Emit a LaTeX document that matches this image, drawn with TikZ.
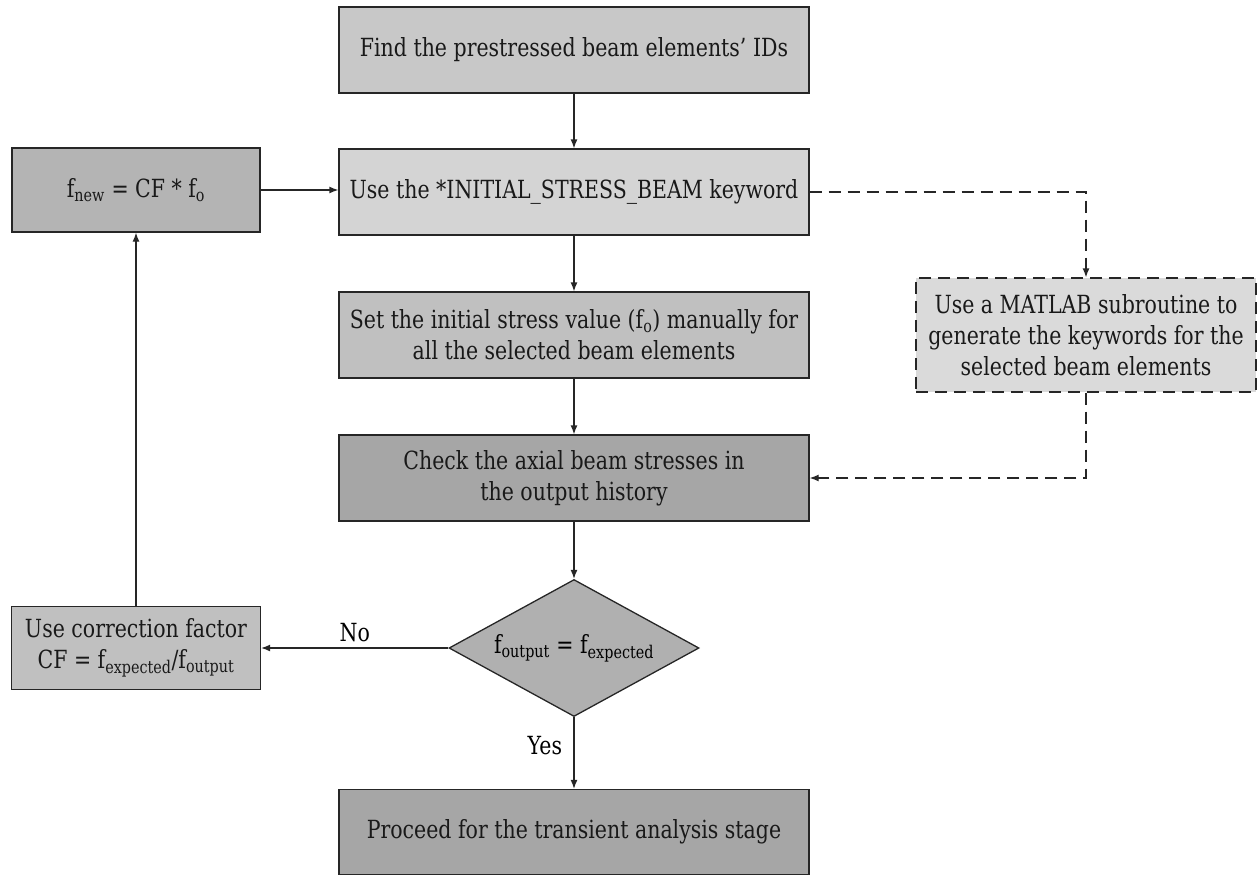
\documentclass[tikz,border=0pt]{standalone}
\usepackage{fontspec}
\setmainfont{DejaVu Serif}[FakeStretch=0.82]
\usetikzlibrary{shapes.geometric,arrows.meta}
\definecolor{cTop}{HTML}{C8C8C8}
\definecolor{cUse}{HTML}{D4D4D4}
\definecolor{cNew}{HTML}{B4B4B4}
\definecolor{cSet}{HTML}{C0C0C0}
\definecolor{cChk}{HTML}{A6A6A6}
\definecolor{cDia}{HTML}{B0B0B0}
\definecolor{cCor}{HTML}{C0C0C0}
\definecolor{cMat}{HTML}{DADADA}
\definecolor{cLine}{HTML}{262626}
\begin{document}
\begin{tikzpicture}[x=1pt,y=-1pt,
  font=\fontsize{25}{31}\selectfont,
  box/.style={draw=cLine,line width=1.3pt,rectangle,align=center,inner sep=2pt,text=black!90},
  wide/.style={box,minimum width=470pt,minimum height=86pt},
  arr/.style={draw=cLine,line width=1.3pt,-{Latex[length=9pt,width=7pt]}},
  dsh/.style={dash pattern=on 12pt off 7pt}]
\useasboundingbox (0,0) rectangle (1257,876);

\node[wide,fill=cTop] (find) at (574,50) {Find the prestressed beam elements' IDs};
\node[wide,fill=cUse] (use) at (574,192) {Use the *INITIAL\_STRESS\_BEAM keyword};
\node[box,fill=cNew,minimum width=248pt,minimum height=84pt] (fnew) at (136,190) {f\textsubscript{new} = CF * f\textsubscript{o}};
\node[wide,fill=cSet] (set) at (574,335) {Set the initial stress value (f\textsubscript{o}) manually for\\all the selected beam elements};
\node[wide,fill=cChk] (chk) at (574,478) {Check the axial beam stresses in\\the output history};
\node[draw=cLine,line width=1.3pt,diamond,aspect=1.82,inner sep=0pt,minimum width=250pt,minimum height=137pt,fill=cDia] (dia) at (574,648) {f\textsubscript{output} = f\textsubscript{expected}};
\node[box,fill=cCor,minimum width=249pt,minimum height=83pt] (cor) at (136,648) {Use correction factor\\CF = f\textsubscript{expected}/f\textsubscript{output}};
\node[wide,fill=cChk,minimum height=85pt] (proc) at (574,832) {Proceed for the transient analysis stage};
\node[box,dsh,fill=cMat,minimum width=340pt,minimum height=114pt] (mat) at (1086,335) {Use a MATLAB subroutine to\\generate the keywords for the\\selected beam elements};

\draw[arr] (find) -- (use);
\draw[arr] (fnew.east) -- (fnew.east -| use.west);
\draw[arr] (use) -- (set);
\draw[arr] (set) -- (chk);
\draw[arr] (chk) -- (dia);
\draw[arr] (dia) -- node[left=8pt,pos=0.4]{Yes} (proc);
\draw[arr] (dia) -- node[above=2pt]{No} (cor);
\draw[arr] (cor) -- (fnew);
\draw[arr,dsh] (use.east) -| (mat.north);
\draw[arr,dsh] (mat.south) |- (chk.east);
\end{tikzpicture}
\end{document}
